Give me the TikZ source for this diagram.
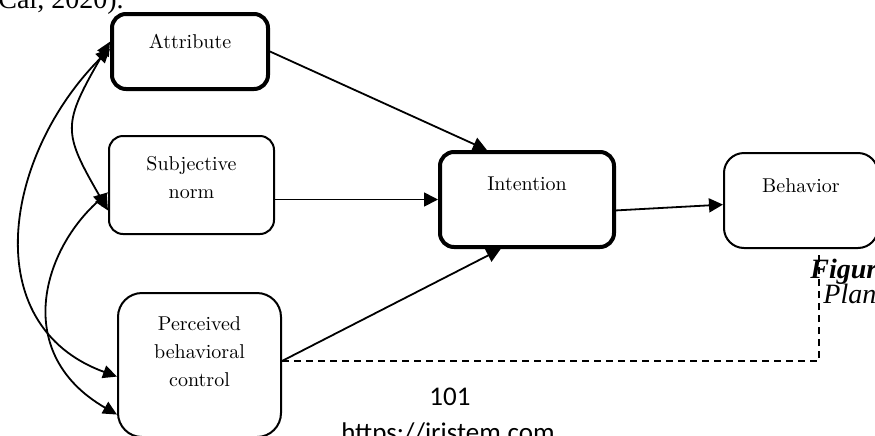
\documentclass[tikz,border=0pt]{standalone}
\usepackage{fontspec}
\usetikzlibrary{arrows.meta}
\newfontfamily\pageserif{Liberation Serif}
\newfontfamily\pagesans{Carlito}

\begin{document}
\begin{tikzpicture}[
x=0.5pt, y=0.5pt,
box/.style={rectangle, draw=black, rounded corners=7pt, line width=1pt, align=center, inner sep=0pt, font=\linespread{1.17}\selectfont},
thickbox/.style={box, line width=2pt},
arr/.style={-{Triangle[length=7pt,width=7pt]}, line width=0.9pt},
biarr/.style={{Triangle[length=7pt,width=6.5pt]}-{Triangle[length=7pt,width=6.5pt]}, line width=0.9pt},
dashline/.style={dashed, dash pattern=on 3.5pt off 2.5pt, line width=0.6pt},
pagetext/.style={inner sep=0pt, font=\pageserif\fontsize{14}{16}\selectfont},
]
\useasboundingbox (0,0) rectangle (875,-435);
\node [thickbox, anchor=north west, text width=78pt, text height=17pt, text depth=20.5pt] (attr) at (110,-12) {Attribute};
\node [box, anchor=north west, text width=82.5pt, text height=17pt, text depth=32pt] (norm) at (108,-135) {Subjective\\norm};
\node [box, anchor=north west, rounded corners=12pt, text width=81.5pt, text height=18.5pt, text depth=53.5pt] (pbc) at (117,-292) {Perceived\\behavioral\\control};
\node [thickbox, anchor=north west, text width=87pt, text height=19pt, text depth=28.5pt] (intent) at (438,-150) {Intention};
\node [box, anchor=north west, rounded corners=10pt, text width=77pt, text height=19.5pt, text depth=28pt] (behav) at (723,-152) {Behavior};
\coordinate (pbcout) at ([yshift=2pt]pbc.east);

\draw[arr] (attr.east) -- (intent.129);
\draw[arr] (norm.east |- intent.west) -- (intent.west);
\draw[arr] (pbcout) -- (intent.242);
\draw[arr] (intent.-7) -- (behav.183);
\draw[dashline] (pbcout) -| ([xshift=9pt,yshift=-1.5pt]behav.south);

\draw[biarr] (attr.173) .. controls +(240:97) and +(120:92) .. (norm.197);
\draw[biarr] (attr.178) .. controls +(225:150) and +(160:150) .. (pbc.188);
\draw[biarr] (norm.185) .. controls +(222:90) and +(150:120) .. (pbc.211);

\node [pagetext, anchor=base east] (cite) at (124,-8) {Cai, 2020).};
\node [pagetext, anchor=base west, font=\pageserif\fontsize{14}{16}\selectfont\bfseries\itshape] (figlabel) at (810,-278) {Figur};
\node [pagetext, anchor=base west, font=\pageserif\fontsize{14}{16}\selectfont\itshape] (figtitle) at (823,-303) {Plan};
\node [inner sep=0pt, anchor=base, font=\pagesans\fontsize{13.5}{15}\selectfont] (pagenum) at (450,-405) {101};
\node [inner sep=0pt, anchor=base, font=\pagesans\fontsize{13.5}{15}\selectfont] (url) at (448,-441) {https://iristem.com};
\end{tikzpicture}
\end{document}
